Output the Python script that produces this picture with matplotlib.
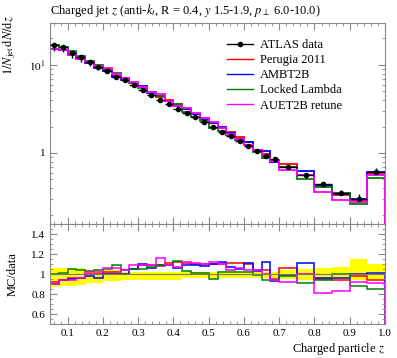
import numpy as np
import matplotlib
matplotlib.use('Agg')
import matplotlib.pyplot as plt
from matplotlib.lines import Line2D
from matplotlib.ticker import MultipleLocator, FixedLocator, FixedFormatter, LogLocator, NullFormatter

plt.rcParams['font.family'] = ['Liberation Serif', 'DejaVu Serif']
plt.rcParams['mathtext.fontset'] = 'stix'

# bin edges: 0.025 wide up to 0.7, then 0.05 wide
edges = np.concatenate([np.arange(0.05, 0.7001, 0.025), [0.75, 0.8, 0.85, 0.9, 0.95, 1.0]])

data = np.array([16.7, 15.9, 13.7, 12.2, 10.7, 9.57, 8.61, 7.36, 6.76, 5.93,
                 5.20, 4.56, 4.05, 3.60, 3.20, 2.87, 2.55, 2.27, 2.00, 1.75,
                 1.56, 1.37, 1.20, 1.05, 0.93, 0.855,
                 0.70, 0.56, 0.44, 0.354, 0.30, 0.61])

# relative data uncertainty (drawn as yellow band in ratio)
err_up = np.array([0.06, 0.06, 0.06, 0.06, 0.04, 0.04, 0.04, 0.04, 0.025, 0.025,
                   0.025, 0.025, 0.025, 0.025, 0.025, 0.025, 0.025, 0.025, 0.025, 0.025,
                   0.025, 0.025, 0.025, 0.025, 0.025, 0.025,
                   0.04, 0.05, 0.06, 0.075, 0.15, 0.10])
err_dn = np.array([0.13, 0.12, 0.12, 0.11, 0.09, 0.09, 0.07, 0.07, 0.06, 0.06,
                   0.06, 0.06, 0.06, 0.06, 0.06, 0.04, 0.04, 0.04, 0.04, 0.04,
                   0.04, 0.04, 0.04, 0.04, 0.04, 0.04,
                   0.05, 0.06, 0.06, 0.045, 0.055, 0.055])

# MC / data ratios
r_perugia = np.array([0.92, 0.94, 0.965, 0.965, 1.0, 1.0, 1.02, 1.02, 1.04, 1.05,
                      1.09, 1.09, 1.08, 1.11, 1.12, 1.11, 1.10, 1.10, 1.10, 1.10,
                      1.11, 1.11, 1.10, 1.04, 1.04, 0.955,
                      1.065, 1.0, 0.955, 0.94, 0.98, 0.945])
r_ambt2b = np.array([0.90, 0.94, 0.95, 0.965, 0.98, 0.965, 1.0, 1.0, 1.0, 1.05,
                     1.10, 1.06, 1.09, 1.09, 1.06, 1.09, 1.09, 1.08, 1.10, 1.125,
                     1.075, 1.05, 1.11, 1.03, 1.125, 0.93,
                     0.99, 1.115, 0.965, 0.965, 1.0, 1.01])
r_locked = np.array([1.0, 1.01, 1.05, 1.04, 1.03, 1.04, 1.05, 1.09, 1.04, 1.05,
                     1.05, 1.07, 1.09, 1.09, 1.135, 1.03, 1.01, 1.01, 0.955, 1.02,
                     1.02, 1.02, 1.02, 0.99, 0.94, 0.94,
                     0.98, 0.91, 0.94, 1.0, 0.88, 0.85])
r_auet2b = np.array([0.905, 0.94, 0.94, 0.965, 1.02, 1.02, 1.06, 1.06, 1.04, 1.09,
                     1.09, 1.09, 1.16, 1.09, 1.075, 1.12, 1.11, 1.10, 1.12, 1.10,
                     1.04, 1.06, 1.04, 1.04, 1.0, 0.945,
                     0.92, 1.0, 0.81, 0.83, 0.92, 0.91])

mc_names = ['Perugia 2011', 'AMBT2B', 'Locked Lambda', 'AUET2B retune']
mc_colors = ['#ff0000', '#0000ff', '#008000', '#ff00ff']
mc_ratios = [r_perugia, r_ambt2b, r_locked, r_auet2b]

centers = 0.5 * (edges[1:] + edges[:-1])
halfw = 0.5 * (edges[1:] - edges[:-1])

fig = plt.figure(figsize=(3.97, 3.58), dpi=100)
W, H = 397, 358
ax = fig.add_axes([50 / W, 1 - 224 / H, 335 / W, 201 / H])
axr = fig.add_axes([50 / W, 1 - 324 / H, 335 / W, 100 / H])

frame = '#888888'
for a in (ax, axr):
    for s in a.spines.values():
        s.set_color(frame)
    a.tick_params(which='both', direction='in', top=True, right=True, color=frame, labelsize=8)
    a.tick_params(which='major', length=5)
    a.tick_params(which='minor', length=2.5)
    a.set_xlim(0.05, 1.0)
    a.xaxis.set_major_locator(MultipleLocator(0.1))
    a.xaxis.set_minor_locator(MultipleLocator(0.02))

for r, c in zip(mc_ratios, mc_colors):
    ax.stairs(r * data, edges, color=c, lw=1.3)
ax.errorbar(centers, data, xerr=halfw, yerr=[data * err_dn, data * err_up],
            fmt='o', ms=3, color='black', lw=1, capsize=0, zorder=5)
ax.set_yscale('log')
ax.set_ylim(0.156, 30)
ax.yaxis.set_major_locator(FixedLocator([1, 10]))
ax.yaxis.set_major_formatter(FixedFormatter(['1', '$10^1$']))
ax.yaxis.set_minor_locator(LogLocator(base=10, subs=np.arange(2, 10)))
ax.yaxis.set_minor_formatter(NullFormatter())
ax.set_xticklabels([])
ax.set_ylabel('$1/N_{\\mathrm{jet}}\\,\\mathrm{d}N/\\mathrm{d}z$', fontsize=9, loc='top')
ax.yaxis.set_label_coords(-0.095, 1.04)

handles = [Line2D([], [], color='black', marker='o', ms=3, lw=1)]
handles += [Line2D([], [], color=c, lw=1) for c in mc_colors]
ax.legend(handles, ['ATLAS data'] + mc_names, loc='upper left',
          bbox_to_anchor=(0.527, 0.92), frameon=False, fontsize=9,
          handlelength=2.1, handletextpad=0.6, labelspacing=0.25,
          borderpad=0, borderaxespad=0)

ax.text(0, 1.045, 'Charged jet $z$ (anti-$k_t$, R = 0.4, $y$ 1.5-1.9, $p_\\perp$ 6.0-10.0)',
        transform=ax.transAxes, fontsize=9, ha='left', va='baseline')

# ratio panel
axr.stairs(1 + err_up, edges, baseline=1 - err_dn, fill=True, color='#ffff00', lw=0)
axr.axhline(1, color='#777777', lw=0.8)
for r, c in zip(mc_ratios, mc_colors):
    axr.stairs(r, edges, color=c, lw=1.1)
axr.set_ylim(0.5, 1.5)
axr.yaxis.set_major_locator(FixedLocator([0.6, 0.8, 1.0, 1.2, 1.4]))
axr.yaxis.set_major_formatter(FixedFormatter(['0.6', '0.8', '1', '1.2', '1.4']))
axr.yaxis.set_minor_locator(MultipleLocator(0.05))
axr.set_xticks([0.1, 0.2, 0.3, 0.4, 0.5, 0.6, 0.7, 0.8, 0.9, 1.0])
axr.set_xticklabels(['0.1', '0.2', '0.3', '0.4', '0.5', '0.6', '0.7', '0.8', '0.9', '1.0'])
axr.set_ylabel('MC/data', fontsize=9)
axr.yaxis.set_label_coords(-0.095, 0.5)
axr.set_xlabel('Charged particle $z$', fontsize=9, loc='right', labelpad=2)

fig.savefig('out.png', dpi=100)
